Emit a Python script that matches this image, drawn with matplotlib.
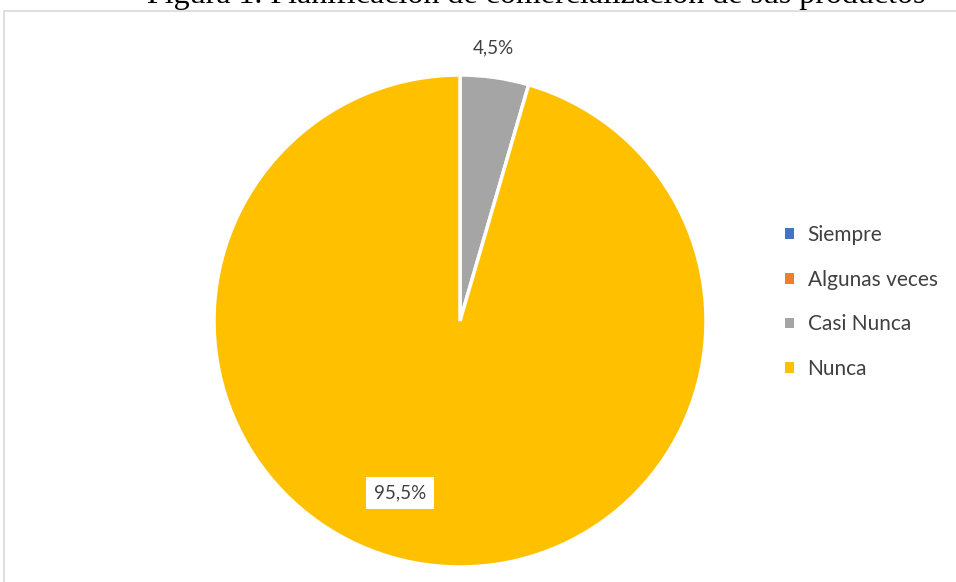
import matplotlib
matplotlib.use("Agg")
import matplotlib.pyplot as plt
from matplotlib.patches import Rectangle, Patch

categories = ["Siempre", "Algunas veces", "Casi Nunca", "Nunca"]
values = [0.0, 0.0, 4.5, 95.5]
colors = ["#4472C4", "#ED7D31", "#A5A5A5", "#FFC000"]
title = "Figura 1. Planificación de comercialización de sus productos"

W, H = 956, 582
fig = plt.figure(figsize=(W/100, H/100), dpi=100)
fig.patch.set_facecolor("white")

# chart frame
fig.patches.append(Rectangle((4/W, -0.01), 1.0, 1 - 11/H + 0.01, transform=fig.transFigure,
                             fill=False, edgecolor="#D9D9D9", linewidth=1.2))

fig.text(536/W, 1 - 3.5/H, title, ha="center", va="baseline",
         fontsize=23, family="Liberation Serif", color="black")

# pie axes: center (460, 321), radius ~246
cx, cy, r = 460, 321, 246
ax = fig.add_axes([(cx - r)/W, 1 - (cy + r)/H, 2*r/W, 2*r/H])
nz = [(c, v, col) for c, v, col in zip(categories, values, colors) if v > 0]
wedges, _ = ax.pie([v for _, v, _ in nz], colors=[col for *_, col in nz],
                   startangle=90, counterclock=False,
                   wedgeprops=dict(edgecolor="white", linewidth=2.5))
ax.set_xlim(-1, 1)
ax.set_ylim(-1, 1)
ax.set_aspect("equal")
ax.axis("off")

lab = lambda v: f"{v:.1f}".replace(".", ",") + "%"
ax.text((493 - cx)/r, (cy - 48)/r, lab(values[2]), ha="center", va="center",
        fontsize=13.5, family="Lato", color="#404040")
ax.text((400 - cx)/r, (cy - 493)/r, lab(values[3]), ha="center", va="center",
        fontsize=13.5, family="Lato", color="#404040",
        bbox=dict(boxstyle="square,pad=0.4", facecolor="white", edgecolor="none"))

handles = [Patch(facecolor=c, edgecolor="none") for c in colors]
leg = fig.legend(handles, categories, loc="upper left",
                 bbox_to_anchor=(779/W, 1 - 219/H), frameon=False,
                 handlelength=0.42, handleheight=0.42, handletextpad=0.65,
                 labelspacing=1.18, borderaxespad=0, borderpad=0.3,
                 prop=dict(family="Lato", size=15))
for t in leg.get_texts():
    t.set_color("#404040")

fig.savefig("out.png", dpi=100)
